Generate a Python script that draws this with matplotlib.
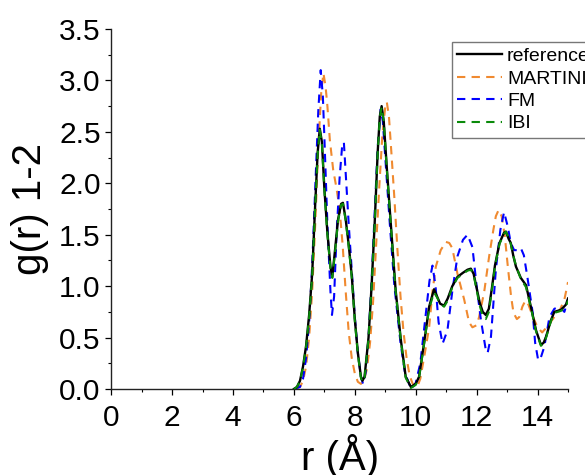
import numpy as np
import matplotlib
matplotlib.use("Agg")
import matplotlib.pyplot as plt
from matplotlib.ticker import MultipleLocator

plt.rcParams['font.family'] = ['Liberation Sans', 'DejaVu Sans']

# reference g(r)
r_ref = [6.0, 6.1, 6.2, 6.3, 6.4, 6.5, 6.6, 6.7, 6.78, 6.85, 6.92, 7.0, 7.1, 7.2, 7.26,
         7.35, 7.45, 7.55, 7.61, 7.7, 7.8, 7.9, 8.0, 8.1, 8.2, 8.25, 8.32, 8.45, 8.55,
         8.65, 8.75, 8.82, 8.88, 8.95, 9.05, 9.18, 9.34, 9.51, 9.67, 9.84, 10.0, 10.11,
         10.27, 10.44, 10.6, 10.7, 10.8, 10.93, 11.05, 11.2, 11.37, 11.55, 11.7, 11.81,
         11.9, 12.0, 12.1, 12.2, 12.3, 12.4, 12.5, 12.6, 12.75, 12.9, 12.96, 13.05, 13.12,
         13.2, 13.29, 13.45, 13.62, 13.78, 13.95, 14.11, 14.2, 14.28, 14.44, 14.55, 14.77,
         14.93, 15.0]
g_ref = [0.0, 0.02, 0.08, 0.22, 0.42, 0.72, 1.12, 1.8, 2.3, 2.53, 2.4, 1.95, 1.52, 1.19, 1.09,
         1.35, 1.65, 1.8, 1.81, 1.65, 1.4, 1.1, 0.68, 0.35, 0.12, 0.08, 0.12, 0.5, 1.0,
         1.6, 2.3, 2.65, 2.75, 2.6, 2.15, 1.61, 0.96, 0.48, 0.12, 0.02, 0.05, 0.12,
         0.44, 0.8, 0.97, 0.9, 0.83, 0.81, 0.88, 1.0, 1.09, 1.13, 1.16, 1.17,
         1.12, 0.98, 0.84, 0.75, 0.72, 0.78, 0.98, 1.2, 1.42, 1.52, 1.53, 1.46, 1.42,
         1.3, 1.19, 1.08, 1.01, 0.8, 0.57, 0.43, 0.45, 0.51, 0.67, 0.75, 0.77,
         0.82, 0.88]

# MARTINI
r_mar = [6.1, 6.2, 6.3, 6.4, 6.5, 6.6, 6.7, 6.8, 6.9, 6.97, 7.04, 7.1, 7.18, 7.29, 7.4, 7.5,
         7.6, 7.7, 7.8, 7.9, 8.0, 8.1, 8.2, 8.3, 8.4, 8.5, 8.6, 8.7, 8.8, 8.9, 9.0, 9.05,
         9.12, 9.2, 9.3, 9.4, 9.5, 9.6, 9.7, 9.8, 9.9, 10.05, 10.15, 10.3, 10.44, 10.55,
         10.66, 10.82, 10.99, 11.1, 11.2, 11.37, 11.59, 11.75, 11.86, 12.0, 12.08, 12.25,
         12.41, 12.55, 12.63, 12.72, 12.82, 12.92, 13.02, 13.13, 13.21, 13.32, 13.4, 13.5,
         13.6, 13.7, 13.85, 14.0, 14.15, 14.3, 14.45, 14.6, 14.75, 14.88, 15.0]
g_mar = [0.0, 0.02, 0.08, 0.22, 0.5, 0.95, 1.6, 2.35, 2.9, 3.07, 2.94, 2.75, 2.42, 2.13, 1.95, 1.75,
         1.4, 0.95, 0.55, 0.3, 0.15, 0.07, 0.05, 0.08, 0.2, 0.45, 0.85, 1.4, 1.95, 2.45, 2.75, 2.79,
         2.65, 2.3, 1.85, 1.35, 0.9, 0.55, 0.3, 0.13, 0.05, 0.02, 0.1, 0.35, 0.6, 0.95,
         1.19, 1.35, 1.43, 1.42, 1.37, 1.12, 0.87, 0.65, 0.6, 0.62, 0.7, 0.95,
         1.29, 1.55, 1.68, 1.74, 1.68, 1.5, 1.2, 0.9, 0.74, 0.68, 0.7, 0.8,
         0.86, 0.82, 0.7, 0.6, 0.55, 0.6, 0.66, 0.72, 0.78, 0.87, 1.04]

# FM
r_fm = [6.0, 6.2, 6.3, 6.4, 6.5, 6.6, 6.7, 6.8, 6.88, 6.95, 7.0, 7.1, 7.2, 7.25, 7.32, 7.4,
        7.5, 7.58, 7.64, 7.7, 7.8, 7.9, 8.0, 8.1, 8.2, 8.27, 8.35, 8.45, 8.55, 8.65, 8.75,
        8.85, 8.92, 9.0, 9.15, 9.3, 9.5, 9.65, 9.85, 10.0, 10.15, 10.3, 10.45, 10.55, 10.65,
        10.75, 10.88, 11.04, 11.2, 11.37, 11.55, 11.7, 11.86, 12.0, 12.14, 12.3, 12.36,
        12.47, 12.63, 12.78, 12.9, 13.02, 13.12, 13.23, 13.35, 13.45, 13.55, 13.67, 13.84,
        13.92, 14.02, 14.1, 14.22, 14.39, 14.55, 14.72, 14.88, 15.0]
g_fm = [0.0, 0.02, 0.1, 0.3, 0.65, 1.2, 1.95, 2.7, 3.1, 2.85, 2.45, 1.6, 0.95, 0.72, 0.9, 1.5,
        2.05, 2.35, 2.4, 2.1, 1.6, 1.15, 0.7, 0.35, 0.12, 0.05, 0.15, 0.5, 1.05, 1.7, 2.35,
        2.72, 2.6, 2.25, 1.6, 1.0, 0.45, 0.15, 0.0, 0.06, 0.25, 0.65, 1.05, 1.2, 1.0,
        0.65, 0.44, 0.57, 0.95, 1.29, 1.45, 1.5, 1.38, 1.0, 0.67, 0.38, 0.35,
        0.51, 1.16, 1.55, 1.72, 1.58, 1.42, 1.35, 1.35, 1.37, 1.3, 1.08, 0.74,
        0.45, 0.28, 0.3, 0.41, 0.7, 0.78, 0.8, 0.75, 0.87]

# IBI
r_ibi = [6.0, 6.1, 6.2, 6.3, 6.4, 6.5, 6.6, 6.7, 6.78, 6.85, 6.92, 7.0, 7.1, 7.2, 7.26,
         7.35, 7.45, 7.55, 7.61, 7.7, 7.8, 7.9, 8.0, 8.1, 8.2, 8.25, 8.32, 8.45, 8.55,
         8.65, 8.75, 8.82, 8.88, 8.95, 9.05, 9.18, 9.34, 9.51, 9.67, 9.84, 10.0, 10.11,
         10.27, 10.44, 10.6, 10.7, 10.8, 10.93, 11.05, 11.2, 11.37, 11.55, 11.7, 11.81,
         11.9, 12.0, 12.1, 12.2, 12.3, 12.4, 12.5, 12.6, 12.75, 12.9, 12.96, 13.05, 13.12,
         13.2, 13.29, 13.45, 13.62, 13.78, 13.95, 14.11, 14.2, 14.28, 14.44, 14.55, 14.77,
         14.93, 15.0]
g_ibi = [0.0, 0.02, 0.08, 0.21, 0.41, 0.7, 1.1, 1.78, 2.28, 2.52, 2.38, 1.93, 1.5, 1.17, 1.08,
         1.33, 1.63, 1.79, 1.8, 1.64, 1.38, 1.08, 0.66, 0.34, 0.11, 0.07, 0.11, 0.49, 0.99,
         1.59, 2.29, 2.64, 2.74, 2.6, 2.14, 1.6, 0.95, 0.47, 0.11, 0.01, 0.04, 0.11,
         0.43, 0.78, 0.94, 0.89, 0.83, 0.8, 0.86, 0.99, 1.08, 1.12, 1.15, 1.16,
         1.11, 0.96, 0.81, 0.71, 0.68, 0.75, 0.96, 1.19, 1.41, 1.51, 1.53, 1.47, 1.41,
         1.3, 1.2, 1.07, 0.99, 0.79, 0.56, 0.42, 0.44, 0.5, 0.66, 0.74, 0.76,
         0.8, 0.86]

fig = plt.figure(figsize=(5.85, 4.75), dpi=100)
ax = fig.add_axes([0.19, 0.181, 0.781, 0.758])

dash = (0, (4, 3))
ax.plot(r_ref, g_ref, color='black', lw=1.7, label='reference', zorder=5)
ax.plot(r_mar, g_mar, color='#f08a30', lw=1.5, ls=dash, label='MARTINI', zorder=3)
ax.plot(r_fm, g_fm, color='#0000ff', lw=1.5, ls=dash, label='FM', zorder=4)
ax.plot(r_ibi, g_ibi, color='#0a8a0a', lw=1.5, ls=dash, label='IBI', zorder=6)

ax.set_xlim(0, 15)
ax.set_ylim(0, 3.5)
ax.xaxis.set_major_locator(MultipleLocator(2))
ax.xaxis.set_minor_locator(MultipleLocator(1))
ax.yaxis.set_major_locator(MultipleLocator(0.5))
ax.yaxis.set_minor_locator(MultipleLocator(0.25))
ax.yaxis.set_major_formatter(matplotlib.ticker.FormatStrFormatter('%.1f'))

for s in ['top', 'right']:
    ax.spines[s].set_visible(False)
for s in ['left', 'bottom']:
    ax.spines[s].set_linewidth(1.0)
    ax.spines[s].set_color('#222222')

ax.tick_params(which='major', direction='out', length=4.5, width=0.9, labelsize=21.5, pad=3)
ax.tick_params(axis='x', which='major', pad=6)
ax.tick_params(which='minor', direction='out', length=2.5, width=0.8)

ax.set_xlabel('r (Å)', fontsize=29, labelpad=1.5)
ax.set_ylabel('g(r) 1-2', fontsize=29, labelpad=7)

leg = ax.legend(loc='upper left', bbox_to_anchor=(452 / 585, 1 - 42 / 475),
                bbox_transform=fig.transFigure, borderaxespad=0, borderpad=0.28,
                fontsize=14, handlelength=2.3, handletextpad=0.25, labelspacing=0.25,
                fancybox=False, frameon=True)
leg.get_frame().set_edgecolor('#555555')
leg.get_frame().set_linewidth(1.0)

fig.savefig('out.png', dpi=100)
